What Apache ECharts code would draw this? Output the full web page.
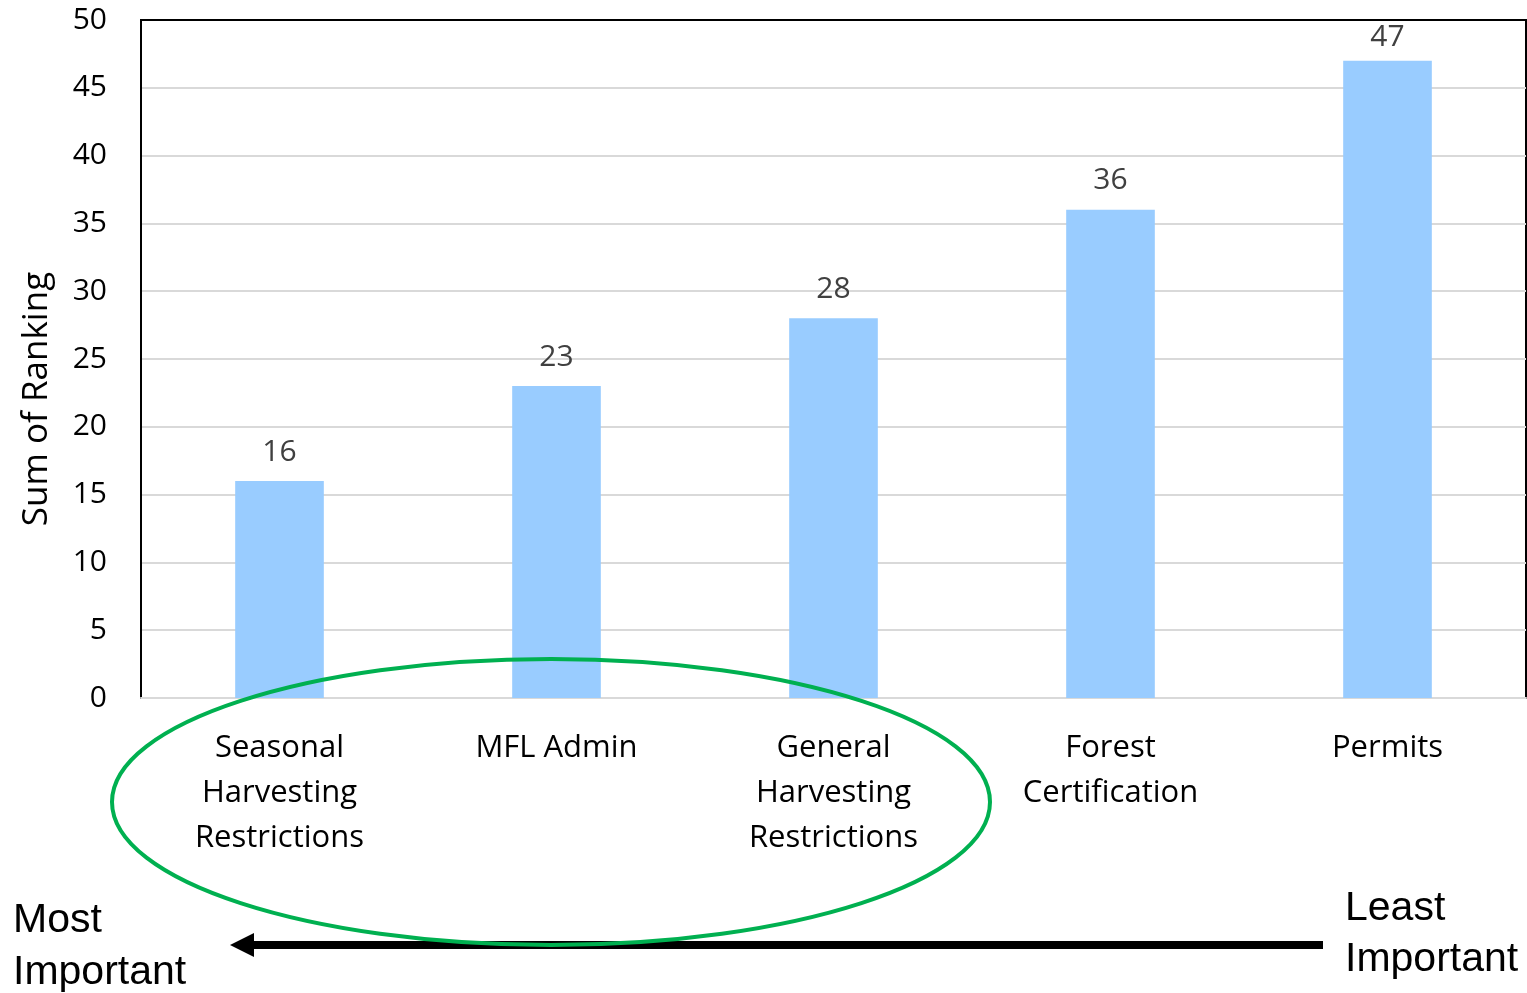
<!DOCTYPE html>
<html>
<head>
<meta charset="utf-8">
<script src="https://cdn.jsdelivr.net/npm/echarts@6/dist/echarts.min.js"></script>
<style>
  html, body { margin: 0; padding: 0; background: #fff; }
  #chart { width: 1527px; height: 993px; }
</style>
</head>
<body>
<div id="chart"></div>
<script>
const categories = [
  'Seasonal\nHarvesting\nRestrictions',
  'MFL Admin',
  'General\nHarvesting\nRestrictions',
  'Forest\nCertification',
  'Permits'
]
const rankingSums = [16, 23, 28, 36, 47]
const yMin = 0
const yMax = 50
const yStep = 5

const font = '"Open Sans", "Noto Sans", sans-serif'
const arialFont = '"Liberation Sans", Arial, sans-serif'

const chart = echarts.init(document.getElementById('chart'))

// tall bar: keep its label under the top border, like the original
const barData = rankingSums.map(v =>
  v > yMax - 5 ? { value: v, label: { distance: 8 } } : v
)

const option = {
  animation: false,
  backgroundColor: '#fff',
  grid: {
    left: 141,
    right: 1,
    top: 20,
    bottom: 295,
    show: true,
    borderColor: '#000',
    borderWidth: 2,
    backgroundColor: 'transparent'
  },
  xAxis: {
    type: 'category',
    data: categories,
    axisLine: { lineStyle: { color: '#d9d9d9', width: 2 } },
    axisTick: { show: false },
    axisLabel: {
      color: '#000',
      fontFamily: font,
      fontSize: 31,
      lineHeight: 45,
      margin: 28,
      interval: 0
    }
  },
  yAxis: {
    type: 'value',
    min: yMin,
    max: yMax,
    interval: yStep,
    name: 'Sum of Ranking',
    nameLocation: 'middle',
    nameGap: 86,
    nameTextStyle: {
      color: '#000',
      fontFamily: font,
      fontSize: 35,
      padding: [0, 80, 0, 0]
    },
    axisLine: { show: true, lineStyle: { color: '#000', width: 2 } },
    axisTick: { show: false },
    axisLabel: {
      color: '#000',
      fontFamily: font,
      fontSize: 30,
      margin: 34
    },
    splitLine: {
      showMinLine: false,
      showMaxLine: false,
      lineStyle: { color: '#d9d9d9', width: 2 }
    }
  },
  series: [{
    type: 'bar',
    data: barData,
    barWidth: '32%',
    itemStyle: { color: '#99ccff' },
    label: {
      show: true,
      position: 'top',
      distance: 14,
      color: '#404040',
      fontFamily: font,
      fontSize: 30
    }
  }],
  graphic: [
    {
      type: 'ellipse',
      z: 100,
      shape: { cx: 551, cy: 802, rx: 439, ry: 143 },
      style: { fill: null, stroke: '#00b050', lineWidth: 4 }
    },
    {
      type: 'line',
      z: 90,
      shape: { x1: 1323, y1: 945, x2: 250, y2: 945 },
      style: { stroke: '#000', lineWidth: 8 }
    },
    {
      type: 'polygon',
      z: 90,
      shape: { points: [[230, 945], [254, 933], [254, 957]] },
      style: { fill: '#000' }
    },
    {
      type: 'text',
      z: 100,
      style: { text: 'Most', x: 13, y: 921, font: '41px ' + arialFont, fill: '#000', verticalAlign: 'middle' }
    },
    {
      type: 'text',
      z: 100,
      style: { text: 'Important', x: 13, y: 973, font: '41px ' + arialFont, fill: '#000', verticalAlign: 'middle' }
    },
    {
      type: 'text',
      z: 100,
      style: { text: 'Least', x: 1345, y: 909, font: '41px ' + arialFont, fill: '#000', verticalAlign: 'middle' }
    },
    {
      type: 'text',
      z: 100,
      style: { text: 'Important', x: 1345, y: 960, font: '41px ' + arialFont, fill: '#000', verticalAlign: 'middle' }
    }
  ]
}

chart.setOption(option)
</script>
</body>
</html>
